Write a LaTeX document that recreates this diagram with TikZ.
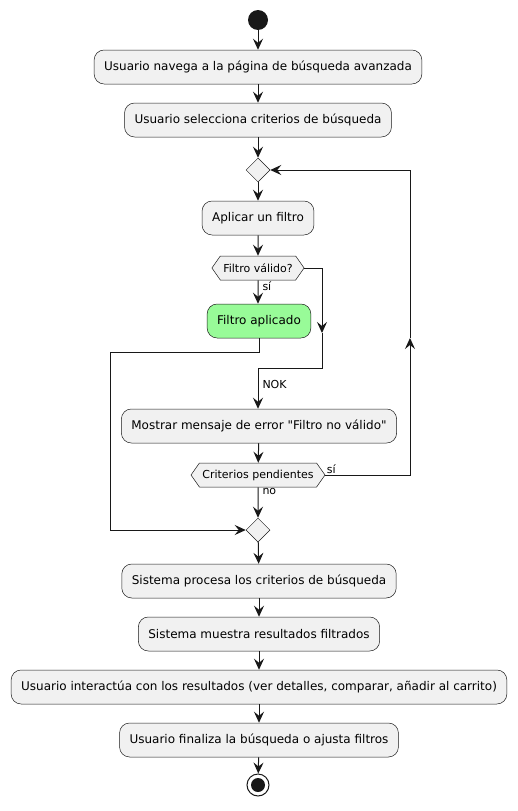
\documentclass[tikz,border=0pt]{standalone}
\usepackage{fontspec}
\setmainfont{DejaVu Sans}[Ligatures=TeXOff]
\usetikzlibrary{shapes.geometric, shapes.symbols, arrows.meta, positioning}
\definecolor{actfill}{HTML}{F1F1F1}
\definecolor{actline}{HTML}{181818}
\definecolor{okfill}{HTML}{98FB98}
\tikzstyle{activity} = [rectangle, rounded corners=10pt, draw=actline, line width=0.5pt, fill=actfill, minimum height=34pt, inner xsep=10pt, font=\fontsize{12}{14}\selectfont]
\tikzstyle{branch} = [signal, signal to=west and east, signal pointer angle=110, draw=actline, line width=0.5pt, fill=actfill, minimum height=24pt, inner xsep=3pt, inner ysep=2pt, font=\fontsize{11}{13}\selectfont]
\tikzstyle{merge} = [diamond, draw=actline, line width=0.5pt, fill=actfill, minimum size=24pt, inner sep=0pt]
\tikzstyle{flow} = [-{Stealth[length=11pt, width=10pt, inset=4pt]}, line width=1pt, draw=actline]
\tikzstyle{guard} = [font=\fontsize{11}{13}\selectfont, inner sep=1pt]

\begin{document}
\begin{tikzpicture}[x=1pt, y=-1pt]
  \useasboundingbox (0,0) rectangle (517,811);
  % inicio
  \node[circle, fill=actline, minimum size=20pt, inner sep=0pt] (start) at (258,20) {};
  \node[activity] (a1) at (258,67) {Usuario navega a la página de búsqueda avanzada};
  \node[activity] (a2) at (258,120) {Usuario selecciona criterios de búsqueda};
  \node[merge] (m1) at (258,170) {};
  \node[activity] (a3) at (258,218) {Aplicar un filtro};
  \node[branch] (b1) at (258,268) {Filtro válido?};
  \node[activity, fill=okfill] (ok) at (259,321) {Filtro aplicado};
  \node[activity] (a5) at (259,426) {Mostrar mensaje de error "Filtro no válido"};
  \node[branch] (b2) at (258,475) {Criterios pendientes};
  \node[merge] (m2) at (258,530) {};
  % final
  \node[activity] (a6) at (259,581) {Sistema procesa los criterios de búsqueda};
  \node[activity] (a7) at (259,634) {Sistema muestra resultados filtrados};
  \node[activity] (a8) at (259,687) {Usuario interactúa con los resultados (ver detalles, comparar, añadir al carrito)};
  \node[activity] (a9) at (259,740) {Usuario finaliza la búsqueda o ajusta filtros};
  \node[circle, draw=actline, line width=1pt, minimum size=22pt, inner sep=0pt] (stop) at (258,785) {};
  \fill[actline] (stop.center) circle (7pt);

  \coordinate (nokdn) at (322,333);
  \coordinate (nokjoin) at (258,368);
  \coordinate (loopup) at (410,338);
  \coordinate (okleft) at (110,352);

  \draw[flow] (start) -- (a1);
  \draw[flow] (a1) -- (a2);
  \draw[flow] (a2) -- (m1);
  \draw[flow] (m1) -- (a3);
  \draw[flow] (a3) -- (b1);
  \draw[flow] (b1) -- node[guard, pos=0, anchor=north west, xshift=3pt] {sí} (b1.south |- ok.north);
  \draw[flow] (b1.east) -| (nokdn);
  \draw[line width=1pt, actline] (nokdn) |- (nokjoin);
  \draw[flow] (nokjoin) -- node[guard, pos=0.4, right=3pt] {NOK} (nokjoin |- a5.north);
  \draw[flow] (ok.south) |- (okleft) |- (m2.west);
  \draw[flow] (a5) -- (b2);
  \draw[flow] (b2.east) -| node[guard, pos=0, anchor=south west] {sí} (loopup);
  \draw[flow] (loopup) |- (m1.east);
  \draw[flow] (b2) -- node[guard, pos=0, anchor=north west, xshift=3pt] {no} (m2);
  \draw[flow] (m2) -- (a6);
  \draw[flow] (a6) -- (a7);
  \draw[flow] (a7) -- (a8);
  \draw[flow] (a8) -- (a9);
  \draw[flow] (a9) -- (stop);
\end{tikzpicture}
\end{document}
